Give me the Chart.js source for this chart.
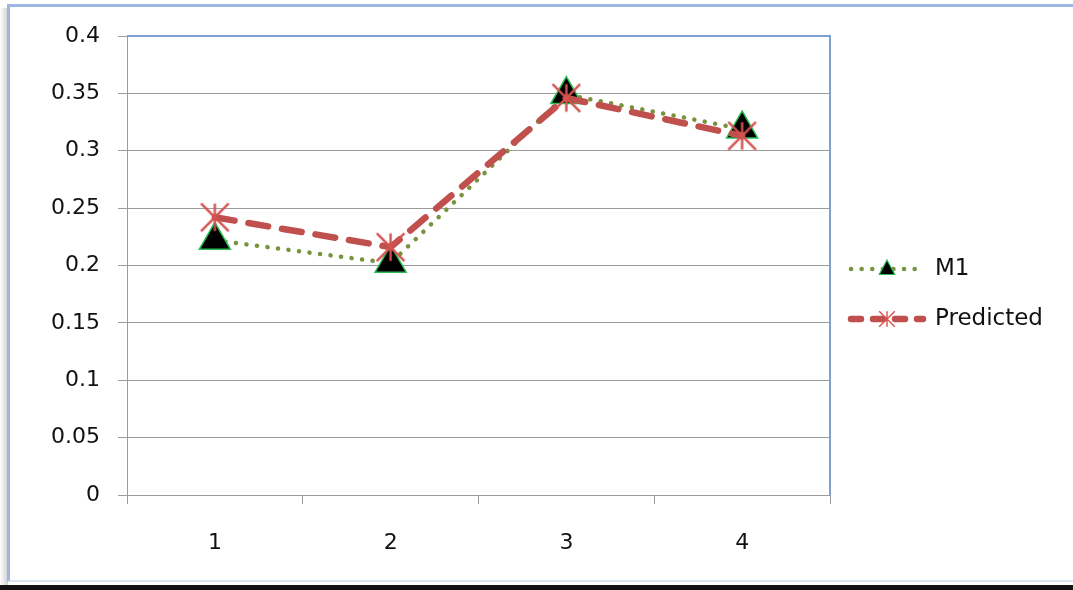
<!DOCTYPE html>
<html>
<head>
<meta charset="utf-8">
<script src="https://cdn.jsdelivr.net/npm/chart.js@4/dist/chart.umd.min.js"></script>
<style>
  html, body { margin: 0; padding: 0; background: #ffffff; }
  #stage { position: relative; width: 1073px; height: 590px; overflow: hidden; background: #ffffff; }
  #shadowL { position: absolute; left: 0; top: 8px; width: 8px; height: 580px;
             background: linear-gradient(to right, #ffffff, #cfcfcf); }
  #frame { position: absolute; left: 7px; top: 4px; width: 1070px; height: 578px;
           border-top: 3px solid #9db6e2; border-left: 3px solid #9db6e2;
           border-bottom: 2px solid #dde4f1; box-sizing: border-box; background: #ffffff; }
  #base { position: absolute; left: 0; top: 585px; width: 1073px; height: 5px; background: #121212; }
  #chart { position: absolute; left: 0; top: 0; }
</style>
</head>
<body>
<div id="stage">
  <div id="shadowL"></div>
  <div id="frame"></div>
  <div id="base"></div>
  <canvas id="chart" width="1073" height="590"></canvas>
</div>
<script>
// Sample index on the category axis
const categories = ['1', '2', '3', '4'];
// Measured series
const m1Values = [0.222, 0.202, 0.349, 0.319];
// Model output
const predictedValues = [0.242, 0.216, 0.346, 0.313];
// Value axis labels
const yTickLabels = ['0', '0.05', '0.1', '0.15', '0.2', '0.25', '0.3', '0.35', '0.4'];

const FONT = 'DejaVu Sans';
const GRID = '#9c9c9c';
const OLIVE = '#77933c';
const RED = '#c0504d';
const TEXT = '#111111';

// asterisk marker: vertical bar plus an X
function makeStar(size, color, lw) {
  const c = document.createElement('canvas');
  c.width = size; c.height = size;
  const g = c.getContext('2d');
  g.strokeStyle = color; g.lineWidth = lw;
  const m = lw / 2 + 0.5, s = size;
  g.beginPath();
  g.moveTo(s / 2, m); g.lineTo(s / 2, s - m);
  g.moveTo(m, m); g.lineTo(s - m, s - m);
  g.moveTo(s - m, m); g.lineTo(m, s - m);
  g.stroke();
  return c;
}
const starBig = makeStar(31, '#d4524f', 2.4);
const starSmall = makeStar(18, '#d4524f', 1.4);

// blue border on the top and right sides of the plot area
const plotFrame = {
  id: 'plotFrame',
  beforeDatasetsDraw(chart) {
    const { ctx, chartArea: a } = chart;
    ctx.save();
    ctx.strokeStyle = '#7f9ed2';
    ctx.lineWidth = 2;
    ctx.beginPath();
    ctx.moveTo(a.left, a.top);
    ctx.lineTo(a.right, a.top);
    ctx.lineTo(a.right, a.bottom);
    ctx.stroke();
    ctx.restore();
  }
};

// legend to the right: line sample with its marker, then the name
const sideLegend = {
  id: 'sideLegend',
  afterDraw(chart) {
    const { ctx, chartArea: a } = chart;
    const x0 = a.right + 19, x1 = x0 + 74, tx = x1 + 12;
    const rows = [
      { ds: chart.data.datasets[0], y: 269 },
      { ds: chart.data.datasets[1], y: 319 }
    ];
    ctx.save();
    rows.forEach((r, i) => {
      const ds = r.ds;
      ctx.strokeStyle = ds.borderColor;
      ctx.lineWidth = ds.borderWidth;
      ctx.lineCap = 'round';
      ctx.setLineDash(i === 0 ? [0.1, 10.5] : [10, 12]);
      ctx.beginPath();
      ctx.moveTo(x0 + 2, r.y);
      ctx.lineTo(x1, r.y);
      ctx.stroke();
      ctx.setLineDash([]);
      const cx = (x0 + x1) / 2 + 1;
      if (i === 0) {
        ctx.fillStyle = '#000000';
        ctx.strokeStyle = '#2dbd55';
        ctx.lineWidth = 1.2;
        const rr = 9;
        ctx.beginPath();
        ctx.moveTo(cx, r.y - rr);
        ctx.lineTo(cx + rr * 0.866, r.y + rr * 0.5 + 1);
        ctx.lineTo(cx - rr * 0.866, r.y + rr * 0.5 + 1);
        ctx.closePath();
        ctx.fill();
        ctx.stroke();
      } else {
        ctx.drawImage(starSmall, cx - 9, r.y - 9);
      }
      ctx.fillStyle = TEXT;
      ctx.font = '23px "' + FONT + '"';
      ctx.textBaseline = 'middle';
      ctx.textAlign = 'left';
      ctx.fillText(ds.label, tx, r.y);
    });
    ctx.restore();
  }
};

new Chart(document.getElementById('chart'), {
  type: 'line',
  data: {
    labels: categories,
    datasets: [
      {
        label: 'M1',
        data: m1Values,
        order: 1,
        borderColor: OLIVE,
        borderWidth: 4.5,
        borderDash: [0.1, 10.5],
        borderCapStyle: 'round',
        tension: 0,
        fill: false,
        pointStyle: 'triangle',
        pointRadius: 18,
        pointHoverRadius: 18,
        pointBackgroundColor: '#000000',
        pointBorderColor: '#2dbd55',
        pointBorderWidth: 1.5
      },
      {
        label: 'Predicted',
        data: predictedValues,
        order: 0,
        borderColor: RED,
        borderWidth: 6.5,
        borderDash: [20, 14],
        borderCapStyle: 'round',
        tension: 0,
        fill: false,
        pointStyle: starBig,
        pointRadius: 15,
        pointHoverRadius: 15
      }
    ]
  },
  options: {
    responsive: false,
    animation: false,
    events: [],
    layout: { padding: { left: 0, top: 36, right: 243, bottom: 30 } },
    plugins: { legend: { display: false }, tooltip: { enabled: false } },
    scales: {
      x: {
        offset: true,
        grid: { offset: true, drawOnChartArea: false, drawTicks: true, tickLength: 9, color: GRID, lineWidth: 1 },
        border: { color: GRID, width: 1 },
        ticks: { color: TEXT, font: { family: FONT, size: 22 }, padding: 26 },
        afterFit(s) { s.height = 65; }
      },
      y: {
        min: 0,
        max: 0.4,
        grid: { color: GRID, lineWidth: 1, tickLength: 9 },
        border: { color: GRID, width: 1 },
        ticks: {
          stepSize: 0.05,
          color: TEXT,
          font: { family: FONT, size: 22 },
          padding: 18,
          callback: (v, i) => yTickLabels[i]
        },
        afterFit(s) { s.width = 127; }
      }
    }
  },
  plugins: [plotFrame, sideLegend]
});
</script>
</body>
</html>
